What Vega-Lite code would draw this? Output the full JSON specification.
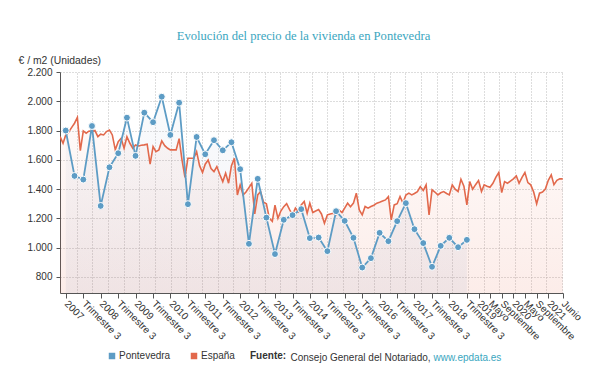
{
  "$schema": "https://vega.github.io/schema/vega-lite/v6.json",
  "width": 503,
  "height": 221,
  "autosize": {"type": "none"},
  "padding": {"left": 60, "top": 72, "right": 39, "bottom": 92},
  "background": "white",
  "config": {"view": {"stroke": null}, "font": "Liberation Sans", "axisY": {"labelOverlap": false}},
  "title": {"text": "Evolución del precio de la vivienda en Pontevedra", "font": "Liberation Serif", "fontSize": 12.6, "fontWeight": "normal", "color": "#3aa6c0", "anchor": "middle", "frame": "group", "dx": -8, "dy": 28, "offset": 30, "baseline": "alphabetic"},
  "data": {"values": [
    {"fecha":"2007-01-15","serie":"España","valor":1758},{"fecha":"2007-02-15","serie":"España","valor":1713},{"fecha":"2007-03-15","serie":"España","valor":1770},{"fecha":"2007-04-15","serie":"España","valor":1790},{"fecha":"2007-05-15","serie":"España","valor":1820},{"fecha":"2007-06-15","serie":"España","valor":1850},{"fecha":"2007-07-15","serie":"España","valor":1890},{"fecha":"2007-08-15","serie":"España","valor":1663},{"fecha":"2007-09-15","serie":"España","valor":1797},{"fecha":"2007-10-15","serie":"España","valor":1782},{"fecha":"2007-11-15","serie":"España","valor":1797},{"fecha":"2007-12-15","serie":"España","valor":1793},
    {"fecha":"2008-01-15","serie":"España","valor":1800},{"fecha":"2008-02-15","serie":"España","valor":1758},{"fecha":"2008-03-15","serie":"España","valor":1775},{"fecha":"2008-04-15","serie":"España","valor":1770},{"fecha":"2008-05-15","serie":"España","valor":1793},{"fecha":"2008-06-15","serie":"España","valor":1804},{"fecha":"2008-07-15","serie":"España","valor":1770},{"fecha":"2008-08-15","serie":"España","valor":1668},{"fecha":"2008-09-15","serie":"España","valor":1724},{"fecha":"2008-10-15","serie":"España","valor":1747},{"fecha":"2008-11-15","serie":"España","valor":1679},{"fecha":"2008-12-15","serie":"España","valor":1758},
    {"fecha":"2009-01-15","serie":"España","valor":1713},{"fecha":"2009-02-15","serie":"España","valor":1679},{"fecha":"2009-03-15","serie":"España","valor":1702},{"fecha":"2009-04-15","serie":"España","valor":1695},{"fecha":"2009-05-15","serie":"España","valor":1700},{"fecha":"2009-06-15","serie":"España","valor":1702},{"fecha":"2009-07-15","serie":"España","valor":1707},{"fecha":"2009-08-15","serie":"España","valor":1570},{"fecha":"2009-09-15","serie":"España","valor":1690},{"fecha":"2009-10-15","serie":"España","valor":1656},{"fecha":"2009-11-15","serie":"España","valor":1668},{"fecha":"2009-12-15","serie":"España","valor":1729},
    {"fecha":"2010-01-15","serie":"España","valor":1697},{"fecha":"2010-02-15","serie":"España","valor":1679},{"fecha":"2010-03-15","serie":"España","valor":1668},{"fecha":"2010-04-15","serie":"España","valor":1668},{"fecha":"2010-05-15","serie":"España","valor":1668},{"fecha":"2010-06-15","serie":"España","valor":1745},{"fecha":"2010-07-15","serie":"España","valor":1600},{"fecha":"2010-08-15","serie":"España","valor":1480},{"fecha":"2010-09-15","serie":"España","valor":1611},{"fecha":"2010-10-15","serie":"España","valor":1611},{"fecha":"2010-11-15","serie":"España","valor":1611},{"fecha":"2010-12-15","serie":"España","valor":1656},
    {"fecha":"2011-01-15","serie":"España","valor":1560},{"fecha":"2011-02-15","serie":"España","valor":1513},{"fecha":"2011-03-15","serie":"España","valor":1570},{"fecha":"2011-04-15","serie":"España","valor":1599},{"fecha":"2011-05-15","serie":"España","valor":1540},{"fecha":"2011-06-15","serie":"España","valor":1519},{"fecha":"2011-07-15","serie":"España","valor":1554},{"fecha":"2011-08-15","serie":"España","valor":1500},{"fecha":"2011-09-15","serie":"España","valor":1451},{"fecha":"2011-10-15","serie":"España","valor":1509},{"fecha":"2011-11-15","serie":"España","valor":1440},{"fecha":"2011-12-15","serie":"España","valor":1560},
    {"fecha":"2012-01-15","serie":"España","valor":1611},{"fecha":"2012-02-15","serie":"España","valor":1360},{"fecha":"2012-03-15","serie":"España","valor":1429},{"fecha":"2012-04-15","serie":"España","valor":1360},{"fecha":"2012-05-15","serie":"España","valor":1380},{"fecha":"2012-06-15","serie":"España","valor":1410},{"fecha":"2012-07-15","serie":"España","valor":1440},{"fecha":"2012-08-15","serie":"España","valor":1230},{"fecha":"2012-09-15","serie":"España","valor":1360},{"fecha":"2012-10-15","serie":"España","valor":1383},{"fecha":"2012-11-15","serie":"España","valor":1310},{"fecha":"2012-12-15","serie":"España","valor":1300},
    {"fecha":"2013-01-15","serie":"España","valor":1200},{"fecha":"2013-02-15","serie":"España","valor":1180},{"fecha":"2013-03-15","serie":"España","valor":1290},{"fecha":"2013-04-15","serie":"España","valor":1200},{"fecha":"2013-05-15","serie":"España","valor":1250},{"fecha":"2013-06-15","serie":"España","valor":1280},{"fecha":"2013-07-15","serie":"España","valor":1300},{"fecha":"2013-08-15","serie":"España","valor":1260},{"fecha":"2013-09-15","serie":"España","valor":1224},{"fecha":"2013-10-15","serie":"España","valor":1270},{"fecha":"2013-11-15","serie":"España","valor":1245},{"fecha":"2013-12-15","serie":"España","valor":1292},
    {"fecha":"2014-01-15","serie":"España","valor":1315},{"fecha":"2014-02-15","serie":"España","valor":1235},{"fecha":"2014-03-15","serie":"España","valor":1304},{"fecha":"2014-04-15","serie":"España","valor":1240},{"fecha":"2014-05-15","serie":"España","valor":1250},{"fecha":"2014-06-15","serie":"España","valor":1260},{"fecha":"2014-07-15","serie":"España","valor":1230},{"fecha":"2014-08-15","serie":"España","valor":1167},{"fecha":"2014-09-15","serie":"España","valor":1224},{"fecha":"2014-10-15","serie":"España","valor":1230},{"fecha":"2014-11-15","serie":"España","valor":1235},{"fecha":"2014-12-15","serie":"España","valor":1225},
    {"fecha":"2015-01-15","serie":"España","valor":1258},{"fecha":"2015-02-15","serie":"España","valor":1240},{"fecha":"2015-03-15","serie":"España","valor":1270},{"fecha":"2015-04-15","serie":"España","valor":1304},{"fecha":"2015-05-15","serie":"España","valor":1280},{"fecha":"2015-06-15","serie":"España","valor":1304},{"fecha":"2015-07-15","serie":"España","valor":1372},{"fecha":"2015-08-15","serie":"España","valor":1258},{"fecha":"2015-09-15","serie":"España","valor":1224},{"fecha":"2015-10-15","serie":"España","valor":1281},{"fecha":"2015-11-15","serie":"España","valor":1270},{"fecha":"2015-12-15","serie":"España","valor":1281},
    {"fecha":"2016-01-15","serie":"España","valor":1290},{"fecha":"2016-02-15","serie":"España","valor":1304},{"fecha":"2016-03-15","serie":"España","valor":1310},{"fecha":"2016-04-15","serie":"España","valor":1318},{"fecha":"2016-05-15","serie":"España","valor":1326},{"fecha":"2016-06-15","serie":"España","valor":1349},{"fecha":"2016-07-15","serie":"España","valor":1190},{"fecha":"2016-08-15","serie":"España","valor":1292},{"fecha":"2016-09-15","serie":"España","valor":1300},{"fecha":"2016-10-15","serie":"España","valor":1349},{"fecha":"2016-11-15","serie":"España","valor":1304},{"fecha":"2016-12-15","serie":"España","valor":1360},
    {"fecha":"2017-01-15","serie":"España","valor":1372},{"fecha":"2017-02-15","serie":"España","valor":1360},{"fecha":"2017-03-15","serie":"España","valor":1370},{"fecha":"2017-04-15","serie":"España","valor":1383},{"fecha":"2017-05-15","serie":"España","valor":1417},{"fecha":"2017-06-15","serie":"España","valor":1390},{"fecha":"2017-07-15","serie":"España","valor":1429},{"fecha":"2017-08-15","serie":"España","valor":1224},{"fecha":"2017-09-15","serie":"España","valor":1395},{"fecha":"2017-10-15","serie":"España","valor":1380},{"fecha":"2017-11-15","serie":"España","valor":1360},{"fecha":"2017-12-15","serie":"España","valor":1375},
    {"fecha":"2018-01-15","serie":"España","valor":1383},{"fecha":"2018-02-15","serie":"España","valor":1370},{"fecha":"2018-03-15","serie":"España","valor":1360},{"fecha":"2018-04-15","serie":"España","valor":1429},{"fecha":"2018-05-15","serie":"España","valor":1400},{"fecha":"2018-06-15","serie":"España","valor":1383},{"fecha":"2018-07-15","serie":"España","valor":1467},{"fecha":"2018-08-15","serie":"España","valor":1420},{"fecha":"2018-09-15","serie":"España","valor":1292},{"fecha":"2018-10-15","serie":"España","valor":1451},{"fecha":"2018-11-15","serie":"España","valor":1399},{"fecha":"2018-12-15","serie":"España","valor":1430},
    {"fecha":"2019-01-15","serie":"España","valor":1458},{"fecha":"2019-02-15","serie":"España","valor":1383},{"fecha":"2019-03-15","serie":"España","valor":1429},{"fecha":"2019-04-15","serie":"España","valor":1420},{"fecha":"2019-05-15","serie":"España","valor":1413},{"fecha":"2019-06-15","serie":"España","valor":1440},{"fecha":"2019-07-15","serie":"España","valor":1480},{"fecha":"2019-08-15","serie":"España","valor":1513},{"fecha":"2019-09-15","serie":"España","valor":1376},{"fecha":"2019-10-15","serie":"España","valor":1451},{"fecha":"2019-11-15","serie":"España","valor":1440},{"fecha":"2019-12-15","serie":"España","valor":1455},
    {"fecha":"2020-01-15","serie":"España","valor":1470},{"fecha":"2020-02-15","serie":"España","valor":1490},{"fecha":"2020-03-15","serie":"España","valor":1440},{"fecha":"2020-04-15","serie":"España","valor":1480},{"fecha":"2020-05-15","serie":"España","valor":1513},{"fecha":"2020-06-15","serie":"España","valor":1444},{"fecha":"2020-07-15","serie":"España","valor":1429},{"fecha":"2020-08-15","serie":"España","valor":1380},{"fecha":"2020-09-15","serie":"España","valor":1299},{"fecha":"2020-10-15","serie":"España","valor":1372},{"fecha":"2020-11-15","serie":"España","valor":1380},{"fecha":"2020-12-15","serie":"España","valor":1400},
    {"fecha":"2021-01-15","serie":"España","valor":1460},{"fecha":"2021-02-15","serie":"España","valor":1497},{"fecha":"2021-03-15","serie":"España","valor":1430},{"fecha":"2021-04-15","serie":"España","valor":1460},{"fecha":"2021-05-15","serie":"España","valor":1470},{"fecha":"2021-06-15","serie":"España","valor":1470},
    {"fecha":"2007-03-15","serie":"Pontevedra","valor":1800},{"fecha":"2007-06-15","serie":"Pontevedra","valor":1490},{"fecha":"2007-09-15","serie":"Pontevedra","valor":1465},{"fecha":"2007-12-15","serie":"Pontevedra","valor":1831},
    {"fecha":"2008-03-15","serie":"Pontevedra","valor":1285},{"fecha":"2008-06-15","serie":"Pontevedra","valor":1549},{"fecha":"2008-09-15","serie":"Pontevedra","valor":1645},{"fecha":"2008-12-15","serie":"Pontevedra","valor":1888},
    {"fecha":"2009-03-15","serie":"Pontevedra","valor":1627},{"fecha":"2009-06-15","serie":"Pontevedra","valor":1922},{"fecha":"2009-09-15","serie":"Pontevedra","valor":1857},{"fecha":"2009-12-15","serie":"Pontevedra","valor":2031},
    {"fecha":"2010-03-15","serie":"Pontevedra","valor":1770},{"fecha":"2010-06-15","serie":"Pontevedra","valor":1990},{"fecha":"2010-09-15","serie":"Pontevedra","valor":1297},{"fecha":"2010-12-15","serie":"Pontevedra","valor":1756},
    {"fecha":"2011-03-15","serie":"Pontevedra","valor":1638},{"fecha":"2011-06-15","serie":"Pontevedra","valor":1734},{"fecha":"2011-09-15","serie":"Pontevedra","valor":1665},{"fecha":"2011-12-15","serie":"Pontevedra","valor":1720},
    {"fecha":"2012-03-15","serie":"Pontevedra","valor":1536},{"fecha":"2012-06-15","serie":"Pontevedra","valor":1026},{"fecha":"2012-09-15","serie":"Pontevedra","valor":1470},{"fecha":"2012-12-15","serie":"Pontevedra","valor":1205},
    {"fecha":"2013-03-15","serie":"Pontevedra","valor":956},{"fecha":"2013-06-15","serie":"Pontevedra","valor":1190},{"fecha":"2013-09-15","serie":"Pontevedra","valor":1222},{"fecha":"2013-12-15","serie":"Pontevedra","valor":1263},
    {"fecha":"2014-03-15","serie":"Pontevedra","valor":1065},{"fecha":"2014-06-15","serie":"Pontevedra","valor":1069},{"fecha":"2014-09-15","serie":"Pontevedra","valor":976},{"fecha":"2014-12-15","serie":"Pontevedra","valor":1249},
    {"fecha":"2015-03-15","serie":"Pontevedra","valor":1183},{"fecha":"2015-06-15","serie":"Pontevedra","valor":1067},{"fecha":"2015-09-15","serie":"Pontevedra","valor":864},{"fecha":"2015-12-15","serie":"Pontevedra","valor":928},
    {"fecha":"2016-03-15","serie":"Pontevedra","valor":1101},{"fecha":"2016-06-15","serie":"Pontevedra","valor":1044},{"fecha":"2016-09-15","serie":"Pontevedra","valor":1181},{"fecha":"2016-12-15","serie":"Pontevedra","valor":1304},
    {"fecha":"2017-03-15","serie":"Pontevedra","valor":1126},{"fecha":"2017-06-15","serie":"Pontevedra","valor":1031},{"fecha":"2017-09-15","serie":"Pontevedra","valor":869},{"fecha":"2017-12-15","serie":"Pontevedra","valor":1012},
    {"fecha":"2018-03-15","serie":"Pontevedra","valor":1067},{"fecha":"2018-06-15","serie":"Pontevedra","valor":1003},{"fecha":"2018-09-15","serie":"Pontevedra","valor":1053}
  ]},
  "layer": [
    {
      "transform": [{"filter": "datum.serie == 'España'"}],
      "mark": {"type": "area", "clip": true, "fill": {"gradient": "linear", "x1": 0, "y1": 0, "x2": 0, "y2": 1, "stops": [{"offset": 0, "color": "rgba(232,103,74,0.03)"}, {"offset": 1, "color": "rgba(232,103,74,0.12)"}]}},
      "encoding": {
        "x": {"field": "fecha", "type": "temporal",
          "scale": {"domain": [{"year": 2007, "month": 1, "date": 14}, {"year": 2021, "month": 6, "date": 18}]},
          "axis": {"orient": "bottom", "grid": false,
            "values": [{"year":2007,"month":3,"date":15},{"year":2007,"month":9,"date":15},{"year":2008,"month":3,"date":15},{"year":2008,"month":9,"date":15},{"year":2009,"month":3,"date":15},{"year":2009,"month":9,"date":15},{"year":2010,"month":3,"date":15},{"year":2010,"month":9,"date":15},{"year":2011,"month":3,"date":15},{"year":2011,"month":9,"date":15},{"year":2012,"month":3,"date":15},{"year":2012,"month":9,"date":15},{"year":2013,"month":3,"date":15},{"year":2013,"month":9,"date":15},{"year":2014,"month":3,"date":15},{"year":2014,"month":9,"date":15},{"year":2015,"month":3,"date":15},{"year":2015,"month":9,"date":15},{"year":2016,"month":3,"date":15},{"year":2016,"month":9,"date":15},{"year":2017,"month":3,"date":15},{"year":2017,"month":9,"date":15},{"year":2018,"month":3,"date":15},{"year":2018,"month":9,"date":15},{"year":2019,"month":1,"date":15},{"year":2019,"month":5,"date":15},{"year":2019,"month":9,"date":15},{"year":2020,"month":1,"date":15},{"year":2020,"month":5,"date":15},{"year":2020,"month":9,"date":15},{"year":2021,"month":1,"date":15},{"year":2021,"month":6,"date":15}],
            "labelExpr": "(month(datum.value) == 2 || month(datum.value) == 0) ? '' + year(datum.value) : (month(datum.value) == 8 && year(datum.value) <= 2018) ? 'Trimestre 3' : month(datum.value) == 4 ? 'Mayo' : month(datum.value) == 8 ? 'Septiembre' : 'Junio'",
            "labelAngle": 45, "labelAlign": "left", "labelBaseline": "middle", "labelFontSize": 10, "labelColor": "#333", "labelOverlap": false, "labelPadding": 4, "labelFlush": false,
            "domainColor": "#555", "tickColor": "#555", "tickSize": 5,
            "title": "Consejo General del Notariado,", "titleFontSize": 10, "titleFontWeight": "normal", "titleColor": "#333", "titleAlign": "left", "titleBaseline": "middle", "titleX": 230, "titleY": 64}
        },
        "y": {"field": "valor", "type": "quantitative", "stack": null,
          "scale": {"domain": [690, 2200], "zero": false, "nice": false},
          "axis": {"values": [800, 1000, 1200, 1400, 1600, 1800, 2000, 2200], "labelExpr": "replace(format(datum.value, ','), ',', '.')", "labelOverlap": false, "grid": true, "gridDash": [1, 2], "gridColor": "#bbbbbb", "domainColor": "#555", "tickColor": "#555", "tickSize": 4, "labelFontSize": 10, "labelColor": "#333", "labelPadding": 4,
            "title": "€ / m2 (Unidades)", "titleAngle": 0, "titleAlign": "left", "titleBaseline": "middle", "titleX": -42, "titleY": -12, "titleFontSize": 10.4, "titleFontWeight": "normal", "titleColor": "#333"}},
        "y2": {"datum": 690}
      }
    },
    {
      "transform": [{"filter": "datum.serie == 'Pontevedra'"}],
      "mark": {"type": "area", "clip": true, "fill": {"gradient": "linear", "x1": 0, "y1": 0, "x2": 0, "y2": 1, "stops": [{"offset": 0, "color": "rgba(93,120,170,0.03)"}, {"offset": 1, "color": "rgba(93,120,170,0.08)"}]}},
      "encoding": {
        "x": {"field": "fecha", "type": "temporal",
          "axis": {"orient": "top", "grid": true, "gridDash": [1, 2], "gridColor": "#bbbbbb", "labels": false, "ticks": false, "domain": false,
            "values": [{"year":2007,"month":7,"date":9},{"year":2007,"month":12,"date":20},{"year":2008,"month":6,"date":2},{"year":2008,"month":11,"date":13},{"year":2009,"month":4,"date":25},{"year":2009,"month":10,"date":7},{"year":2010,"month":3,"date":18},{"year":2010,"month":8,"date":30},{"year":2011,"month":2,"date":11},{"year":2011,"month":7,"date":23},{"year":2012,"month":1,"date":4},{"year":2012,"month":6,"date":16},{"year":2012,"month":11,"date":28},{"year":2013,"month":5,"date":9},{"year":2013,"month":10,"date":21},{"year":2014,"month":4,"date":2},{"year":2014,"month":9,"date":13},{"year":2015,"month":2,"date":25},{"year":2015,"month":8,"date":6},{"year":2016,"month":1,"date":18},{"year":2016,"month":6,"date":30},{"year":2016,"month":12,"date":11},{"year":2017,"month":5,"date":23},{"year":2017,"month":11,"date":4},{"year":2018,"month":4,"date":16},{"year":2018,"month":9,"date":28},{"year":2019,"month":3,"date":11},{"year":2019,"month":8,"date":21},{"year":2020,"month":2,"date":2},{"year":2020,"month":7,"date":14},{"year":2020,"month":12,"date":25},{"year":2021,"month":6,"date":6}],
            "title": "www.epdata.es", "titleFontSize": 10, "titleFontWeight": "normal", "titleColor": "#3aa6c0", "titleAlign": "left", "titleBaseline": "middle", "titleX": 373, "titleY": 285}},
        "y": {"field": "valor", "type": "quantitative", "stack": null,
          "axis": {"values": [800, 1000, 1200, 1400, 1600, 1800, 2000, 2200], "labelExpr": "replace(format(datum.value, ','), ',', '.')", "labelOverlap": false, "grid": true, "gridDash": [1, 2], "gridColor": "#bbbbbb", "domainColor": "#555", "tickColor": "#555", "tickSize": 4, "labelFontSize": 10, "labelColor": "#333", "labelPadding": 4,
            "title": "€ / m2 (Unidades)", "titleAngle": 0, "titleAlign": "left", "titleBaseline": "middle", "titleX": -42, "titleY": -12, "titleFontSize": 10.4, "titleFontWeight": "normal", "titleColor": "#333"}},
        "y2": {"datum": 690}
      }
    },
    {
      "transform": [{"filter": "datum.serie == 'España'"}],
      "mark": {"type": "line", "clip": true, "strokeWidth": 1.6},
      "encoding": {
        "x": {"field": "fecha", "type": "temporal", "axis": null},
        "y": {"field": "valor", "type": "quantitative",
          "axis": {"values": [800, 1000, 1200, 1400, 1600, 1800, 2000, 2200], "labelExpr": "replace(format(datum.value, ','), ',', '.')", "labelOverlap": false, "grid": true, "gridDash": [1, 2], "gridColor": "#bbbbbb", "domainColor": "#555", "tickColor": "#555", "tickSize": 4, "labelFontSize": 10, "labelColor": "#333", "labelPadding": 4,
            "title": "€ / m2 (Unidades)", "titleAngle": 0, "titleAlign": "left", "titleBaseline": "middle", "titleX": -42, "titleY": -12, "titleFontSize": 10.4, "titleFontWeight": "normal", "titleColor": "#333"}},
        "color": {"field": "serie", "type": "nominal", "scale": {"domain": ["Pontevedra", "España"], "range": ["#5d9cc5", "#e2694c"]},
          "legend": {"orient": "none", "legendX": 47, "legendY": 279, "direction": "horizontal", "title": "Fuente:", "titleOrient": "right", "titleFontWeight": "bold", "titleFontSize": 10, "titleColor": "#333", "titlePadding": 15, "labelFontSize": 10, "labelColor": "#333", "labelOffset": 2, "symbolType": "square", "symbolSize": 42, "symbolStrokeWidth": 0, "symbolOpacity": 1, "columnPadding": 18}}
      }
    },
    {
      "transform": [{"filter": "datum.serie == 'Pontevedra'"}],
      "mark": {"type": "line", "clip": true, "strokeWidth": 1.8},
      "encoding": {
        "x": {"field": "fecha", "type": "temporal", "axis": null},
        "y": {"field": "valor", "type": "quantitative",
          "axis": {"values": [800, 1000, 1200, 1400, 1600, 1800, 2000, 2200], "labelExpr": "replace(format(datum.value, ','), ',', '.')", "labelOverlap": false, "grid": true, "gridDash": [1, 2], "gridColor": "#bbbbbb", "domainColor": "#555", "tickColor": "#555", "tickSize": 4, "labelFontSize": 10, "labelColor": "#333", "labelPadding": 4,
            "title": "€ / m2 (Unidades)", "titleAngle": 0, "titleAlign": "left", "titleBaseline": "middle", "titleX": -42, "titleY": -12, "titleFontSize": 10.4, "titleFontWeight": "normal", "titleColor": "#333"}},
        "color": {"field": "serie", "type": "nominal",
          "legend": {"orient": "none", "legendX": 47, "legendY": 279, "direction": "horizontal", "title": "Fuente:", "titleOrient": "right", "titleFontWeight": "bold", "titleFontSize": 10, "titleColor": "#333", "titlePadding": 15, "labelFontSize": 10, "labelColor": "#333", "labelOffset": 2, "symbolType": "square", "symbolSize": 42, "symbolStrokeWidth": 0, "symbolOpacity": 1, "columnPadding": 18}}
      }
    },
    {
      "transform": [{"filter": "datum.serie == 'Pontevedra'"}],
      "mark": {"type": "point", "filled": true, "size": 48, "stroke": "white", "strokeWidth": 1, "opacity": 1},
      "encoding": {
        "x": {"field": "fecha", "type": "temporal", "axis": null},
        "y": {"field": "valor", "type": "quantitative",
          "axis": {"values": [800, 1000, 1200, 1400, 1600, 1800, 2000, 2200], "labelExpr": "replace(format(datum.value, ','), ',', '.')", "labelOverlap": false, "grid": true, "gridDash": [1, 2], "gridColor": "#bbbbbb", "domainColor": "#555", "tickColor": "#555", "tickSize": 4, "labelFontSize": 10, "labelColor": "#333", "labelPadding": 4,
            "title": "€ / m2 (Unidades)", "titleAngle": 0, "titleAlign": "left", "titleBaseline": "middle", "titleX": -42, "titleY": -12, "titleFontSize": 10.4, "titleFontWeight": "normal", "titleColor": "#333"}},
        "color": {"field": "serie", "type": "nominal",
          "legend": {"orient": "none", "legendX": 47, "legendY": 279, "direction": "horizontal", "title": "Fuente:", "titleOrient": "right", "titleFontWeight": "bold", "titleFontSize": 10, "titleColor": "#333", "titlePadding": 15, "labelFontSize": 10, "labelColor": "#333", "labelOffset": 2, "symbolType": "square", "symbolSize": 42, "symbolStrokeWidth": 0, "symbolOpacity": 1, "columnPadding": 18}}
      }
    }
  ],
  "resolve": {"axis": {"x": "independent"}}
}
